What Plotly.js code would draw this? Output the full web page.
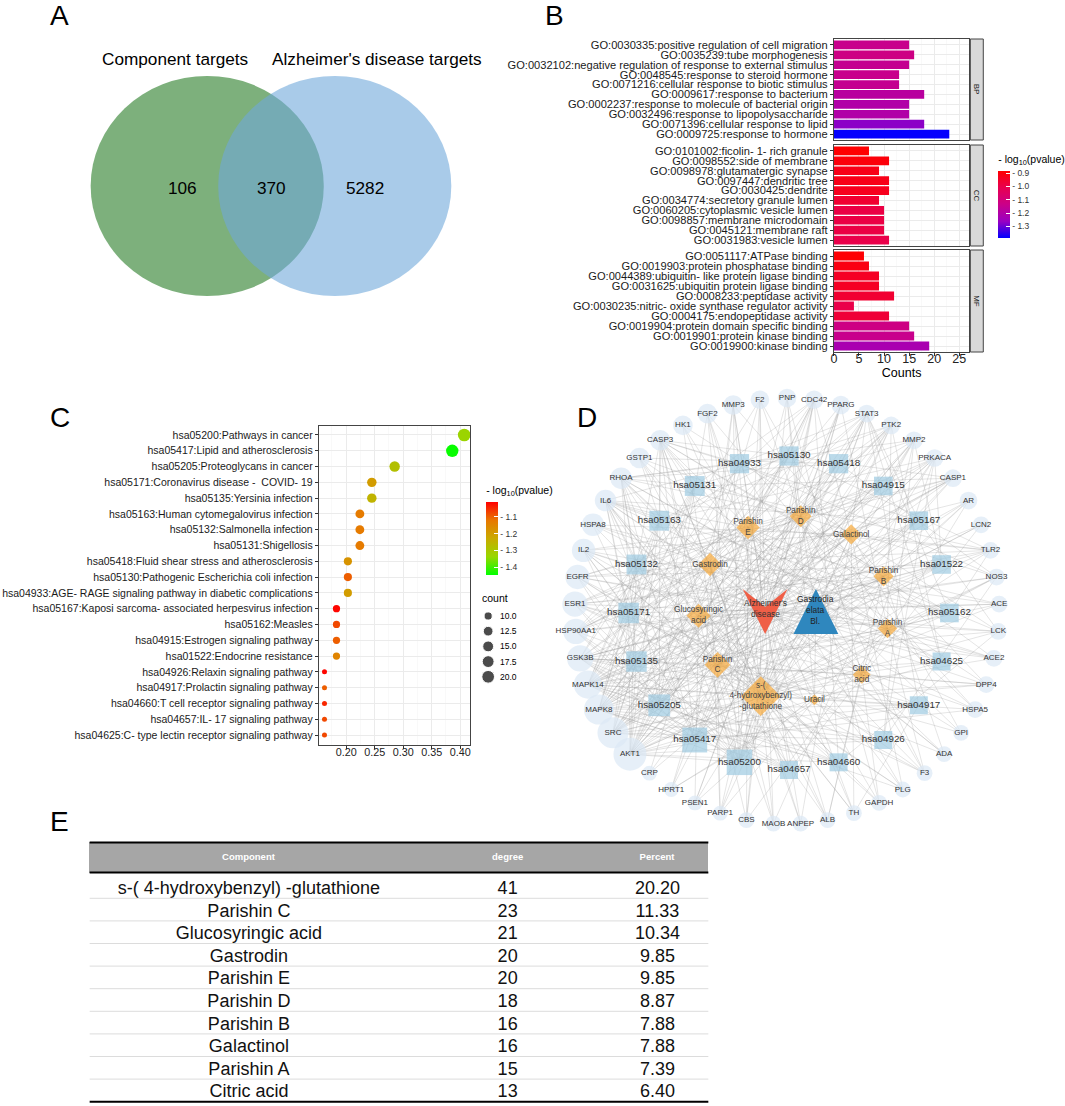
<!DOCTYPE html>
<html><head><meta charset="utf-8">
<script src="https://cdn.plot.ly/plotly-3.0.1.min.js"></script>
<style>html,body{margin:0;padding:0;background:#fff}</style>
</head><body><div id="chart" style="width:1065px;height:1106px"></div>
<script>
// ---------- Panel A data ----------
const vennSets = ['Component targets', "Alzheimer's disease targets"];
const vennRegionCounts = [106, 370, 5282]; // component only, shared, AD only

// ---------- Panel B data ----------
const goBPTerms = ['GO:0030335:positive regulation of cell migration','GO:0035239:tube morphogenesis','GO:0032102:negative regulation of response to external stimulus','GO:0048545:response to steroid hormone','GO:0071216:cellular response to biotic stimulus','GO:0009617:response to bacterium','GO:0002237:response to molecule of bacterial origin','GO:0032496:response to lipopolysaccharide','GO:0071396:cellular response to lipid','GO:0009725:response to hormone'];
const goBPCounts = [15,16,15,13,13,18,15,15,18,23];
const goBPLogP = [-1.14,-1.12,-1.15,-1.14,-1.15,-1.18,-1.2,-1.2,-1.27,-1.38];
const goCCTerms = ['GO:0101002:ficolin- 1- rich granule','GO:0098552:side of membrane','GO:0098978:glutamatergic synapse','GO:0097447:dendritic tree','GO:0030425:dendrite','GO:0034774:secretory granule lumen','GO:0060205:cytoplasmic vesicle lumen','GO:0098857:membrane microdomain','GO:0045121:membrane raft','GO:0031983:vesicle lumen'];
const goCCCounts = [7,11,9,11,11,9,10,10,10,11];
const goCCLogP = [-0.885,-0.9,-0.92,-0.92,-0.93,-0.96,-0.99,-0.99,-0.99,-1.0];
const goMFTerms = ['GO:0051117:ATPase binding','GO:0019903:protein phosphatase binding','GO:0044389:ubiquitin- like protein ligase binding','GO:0031625:ubiquitin protein ligase binding','GO:0008233:peptidase activity','GO:0030235:nitric- oxide synthase regulator activity','GO:0004175:endopeptidase activity','GO:0019904:protein domain specific binding','GO:0019901:protein kinase binding','GO:0019900:kinase binding'];
const goMFCounts = [6,7,9,9,12,4,11,15,16,19];
const goMFLogP = [-0.89,-0.91,-0.94,-0.94,-0.96,-1.0,-0.97,-1.12,-1.14,-1.22];
const goFacets = ['BP','CC','MF'];
const goLogPTicks = [-0.9,-1.0,-1.1,-1.2,-1.3];

// ---------- Panel C data ----------
const keggTerms = ['hsa05200:Pathways in cancer','hsa05417:Lipid and atherosclerosis','hsa05205:Proteoglycans in cancer','hsa05171:Coronavirus disease -  COVID- 19','hsa05135:Yersinia infection','hsa05163:Human cytomegalovirus infection','hsa05132:Salmonella infection','hsa05131:Shigellosis','hsa05418:Fluid shear stress and atherosclerosis','hsa05130:Pathogenic Escherichia coli infection','hsa04933:AGE- RAGE signaling pathway in diabetic complications','hsa05167:Kaposi sarcoma- associated herpesvirus infection','hsa05162:Measles','hsa04915:Estrogen signaling pathway','hsa01522:Endocrine resistance','hsa04926:Relaxin signaling pathway','hsa04917:Prolactin signaling pathway','hsa04660:T cell receptor signaling pathway','hsa04657:IL- 17 signaling pathway','hsa04625:C- type lectin receptor signaling pathway'];
const keggRatio = [0.407,0.386,0.285,0.245,0.245,0.224,0.224,0.224,0.203,0.203,0.203,0.183,0.183,0.183,0.183,0.162,0.162,0.162,0.162,0.162];
const keggCount = [20,19,14,12,12,11,11,11,10,10,10,9,9,9,9,8,8,8,8,8];
const keggLogP = [-1.33,-1.44,-1.28,-1.2,-1.25,-1.13,-1.13,-1.13,-1.18,-1.1,-1.2,-1.02,-1.08,-1.1,-1.15,-1.02,-1.1,-1.05,-1.08,-1.08];
const keggLogPTicks = [-1.1,-1.2,-1.3,-1.4];
const countLegendValues = [10, 12.5, 15, 17.5, 20];

// ---------- Panel D data ----------
const genes = ['AKT1','SRC','MAPK8','MAPK14','GSK3B','HSP90AA1','ESR1','EGFR','IL2','HSPA8','IL6','RHOA','GSTP1','CASP3','HK1','FGF2','MMP3','F2','PNP','CDC42','PPARG','STAT3','PTK2','MMP2','PRKACA','CASP1','AR','LCN2','TLR2','NOS3','ACE','LCK','ACE2','DPP4','HSPA5','GPI','ADA','F3','PLG','GAPDH','TH','ALB','ANPEP','MAOB','CBS','PARP1','PSEN1','HPRT1','CRP'];
const geneDegree = [22,20,19,17,15,14,14,13,12,11,10,10,9,9,8,8,8,7,7,7,7,6,6,6,6,6,6,5,5,5,5,5,5,5,5,4,4,4,4,4,4,4,4,4,4,3,3,3,3];
const netPathwayOrder = ['hsa05130','hsa05418','hsa04915','hsa05167','hsa01522','hsa05162','hsa04625','hsa04917','hsa04926','hsa04660','hsa04657','hsa05200','hsa05417','hsa05205','hsa05135','hsa05171','hsa05132','hsa05163','hsa05131','hsa04933'];
const pathwayGenes = [
 'AKT1 MAPK8 GSK3B HSP90AA1 ESR1 EGFR IL2 IL6 RHOA GSTP1 CASP3 FGF2 MMP2 PTK2 STAT3 PPARG CDC42 PRKACA F2 MMP3',
 'AKT1 SRC MAPK8 MAPK14 GSK3B HSP90AA1 IL6 RHOA CASP3 CASP1 TLR2 NOS3 MMP3 PPARG HSPA5 HSPA8 STAT3 PTK2 CDC42',
 'AKT1 SRC MAPK14 ESR1 EGFR FGF2 MMP2 PTK2 STAT3 CDC42 PRKACA RHOA CASP3 PLG',
 'AKT1 MAPK8 MAPK14 IL2 IL6 STAT3 TLR2 ACE ACE2 CASP1 F2 F3',
 'AKT1 SRC MAPK8 MAPK14 GSK3B IL2 IL6 RHOA CASP1 PTK2 CDC42 LCK',
 'AKT1 SRC MAPK8 MAPK14 GSK3B IL6 RHOA CASP3 PTK2 STAT3 PRKACA',
 'AKT1 SRC MAPK8 MAPK14 IL6 RHOA CASP1 CASP3 CDC42 TLR2 HSP90AA1',
 'AKT1 SRC MAPK8 MAPK14 GSK3B RHOA CASP1 CASP3 CDC42 PTK2 TLR2',
 'AKT1 SRC MAPK8 MAPK14 HSP90AA1 NOS3 RHOA MMP2 PTK2 GSTP1',
 'AKT1 SRC MAPK8 MAPK14 RHOA CASP3 CDC42 TLR2 CASP1 HSP90AA1',
 'AKT1 MAPK8 MAPK14 IL6 STAT3 NOS3 CASP3 MMP2 RHOA F3',
 'AKT1 SRC MAPK8 MAPK14 GSK3B IL6 STAT3 CASP3 LCK',
 'AKT1 MAPK8 GSK3B IL2 IL6 STAT3 HSPA8 TLR2 CASP3',
 'AKT1 SRC MAPK8 MAPK14 HSP90AA1 ESR1 EGFR PRKACA MMP2',
 'AKT1 SRC MAPK8 MAPK14 ESR1 EGFR PRKACA MMP2 GSK3B',
 'AKT1 SRC MAPK8 MAPK14 EGFR NOS3 PRKACA MMP2',
 'AKT1 SRC MAPK8 MAPK14 GSK3B ESR1 STAT3 TH',
 'AKT1 MAPK8 MAPK14 GSK3B IL2 LCK CDC42 IL6',
 'MAPK8 MAPK14 GSK3B HSP90AA1 IL6 CASP3 MMP3 LCN2',
 'AKT1 MAPK8 MAPK14 IL2 IL6 STAT3 RHOA PTK2'];
const componentNames = ['Parishin D','Galactinol','Parishin B','Parishin A','Citric acid','Uracil','s-(4-hydroxybenzyl)-glutathione','Parishin C','Glucosyringic acid','Gastrodin','Parishin E'];
const componentLabels = ['Parishin<br>D','Galactinol','Parishin<br>B','Parishin<br>A','Citric<br>acid','Uracil','s-(<br>4-hydroxybenzyl)<br>-glutathione','Parishin<br>C','Glucosyringic<br>acid','Gastrodin','Parishin<br>E'];
const componentDegree = [18,16,16,15,13,4,41,23,21,20,20];
const componentGenes = [
 'PNP PPARG PTK2 PRKACA NOS3 ACE2 HSPA5 F3 GAPDH PSEN1 AKT1 SRC MAPK8 HSP90AA1 EGFR RHOA GSTP1 F2',
 'CDC42 STAT3 CASP1 TLR2 LCK GPI PLG TH ANPEP PARP1 SRC MAPK8 HSP90AA1 IL2 HSPA8 HK1',
 'MMP2 AR LCN2 ACE DPP4 ADA ALB MAOB CRP AKT1 MAPK14 GSK3B ESR1 IL6 CASP3 MMP3',
 'PPARG PTK2 NOS3 ACE2 HSPA5 F3 CBS PSEN1 AKT1 MAPK14 EGFR RHOA GSTP1 FGF2 F2',
 'PNP PRKACA AR DPP4 ADA GAPDH ALB HPRT1 SRC GSK3B ESR1 IL6 CASP3',
 'PNP DPP4 HPRT1 PARP1',
 'CDC42 PPARG STAT3 PTK2 MMP2 PRKACA CASP1 AR NOS3 ACE LCK ACE2 DPP4 HSPA5 F3 PLG GAPDH TH ALB ANPEP MAOB CBS PARP1 PSEN1 AKT1 SRC MAPK8 MAPK14 GSK3B HSP90AA1 ESR1 EGFR IL2 HSPA8 IL6 RHOA GSTP1 CASP3 FGF2 MMP3 F2',
 'PNP STAT3 MMP2 AR LCN2 TLR2 ACE DPP4 GPI ADA PLG ALB MAOB PARP1 HPRT1 AKT1 SRC MAPK8 MAPK14 GSK3B ESR1 EGFR HK1',
 'PTK2 PRKACA CASP1 NOS3 LCK HSPA5 F3 GAPDH TH CBS PSEN1 CRP AKT1 SRC MAPK8 MAPK14 HSP90AA1 IL2 IL6 CASP3 F2',
 'PPARG MMP2 AR ACE ACE2 ADA ALB ANPEP MAOB PARP1 AKT1 MAPK8 GSK3B HSP90AA1 ESR1 EGFR HSPA8 RHOA GSTP1 MMP3',
 'CDC42 STAT3 CASP1 TLR2 LCK DPP4 GPI PLG TH CBS HPRT1 SRC MAPK14 GSK3B ESR1 IL2 IL6 CASP3 HK1 FGF2'];
const diseaseNode = "Alzheimer's<br>disease";
const herbNode = 'Gastrodia<br>elata<br>Bl.';

// ---------- Panel E data ----------
const tableHeader = ['Component','degree','Percent'];
const tableComponents = ['s-( 4-hydroxybenzyl) -glutathione','Parishin C','Glucosyringic acid','Gastrodin','Parishin E','Parishin D','Parishin B','Galactinol','Parishin A','Citric acid'];
const tableDegree = [41,23,21,20,20,18,16,16,15,13];
const tablePercent = [20.20,11.33,10.34,9.85,9.85,8.87,7.88,7.88,7.39,6.40];

// ================= drawing =================
const W = 1065, H = 1106;
const F = 'Liberation Sans, Arial, Helvetica, sans-serif';
const px = v => v / W, py = v => 1 - v / H;
const traces = [], shapes = [], annotations = [];
const ann = (x, y, text, size, extra) => annotations.push(Object.assign({xref:'paper', yref:'paper', x:px(x), y:py(y), text, showarrow:false, font:{family:F, size, color:'#000'}, xanchor:'center', yanchor:'middle'}, extra||{}));

// panel letters
[['A',60,16],['B',557,16],['C',60,417],['D',589,417],['E',60,821]].forEach(l => ann(l[1], l[2], l[0], 28));

// ---- Panel A: Venn (pixel overlay axis x/y) ----
const vennCy = 186, vennRx = 117, vennRy = 110, vennCx = [208, 336];
shapes.push({type:'circle', xref:'x', yref:'y', x0:vennCx[0]-vennRx, x1:vennCx[0]+vennRx, y0:vennCy-vennRy, y1:vennCy+vennRy, fillcolor:'#7db07c', line:{width:0}, layer:'below'});
shapes.push({type:'circle', xref:'x', yref:'y', x0:vennCx[1]-vennRx, x1:vennCx[1]+vennRx, y0:vennCy-vennRy, y1:vennCy+vennRy, fillcolor:'rgb(112,168,218)', opacity:0.6, line:{width:0}, layer:'below'});
ann(176, 59, vennSets[0], 17.2);
ann(378, 59, vennSets[1], 17.2);
const vennTextX = [183, 273, 366];
vennRegionCounts.forEach((c,i) => ann(vennTextX[i], 188, String(c), 17.2));

// ---- Panel B: GO bars ----
const bDomX = [px(837), px(973)];
const bPanels = [[39,140],[145,246],[250,352]];
const goTerms = [goBPTerms, goCCTerms, goMFTerms], goCounts = [goBPCounts, goCCCounts, goMFCounts], goLogP = [goBPLogP, goCCLogP, goMFLogP];
const layoutAxes = {};
goTerms.forEach((terms, k) => {
  const n = k + 2;
  traces.push({type:'bar', orientation:'h', x:goCounts[k], y:terms, xaxis:'x'+n, yaxis:'y'+n, width:0.88,
    marker:{color:goLogP[k], coloraxis:'coloraxis', line:{width:0}}, hoverinfo:'skip'});
  layoutAxes['xaxis'+n] = {domain:bDomX, anchor:'y'+n, range:[0,27], tickmode:'linear', tick0:0, dtick:5, showticklabels:k===2, ticks:k===2?'outside':'', ticklen:3, tickcolor:'#333',
    ticklabelstandoff:-8, tickfont:{family:F, size:12.5, color:'#222'}, showgrid:true, gridcolor:'#ebebeb', zeroline:false,
    minor:{dtick:2.5, showgrid:true, gridcolor:'#f5f5f5', gridwidth:0.6},
    showline:true, mirror:true, linecolor:'#444', linewidth:1,
    title: k===2 ? {text:'Counts', font:{family:F, size:12.5, color:'#000'}, standoff:0} : undefined};
  layoutAxes['yaxis'+n] = {domain:[py(bPanels[k][1]), py(bPanels[k][0])], anchor:'x'+n, type:'category', categoryorder:'array', categoryarray:terms,
    tickmode:'linear', tick0:0, dtick:1,
    range:[terms.length-0.4, -0.6], ticks:'outside', ticklen:3, tickcolor:'#333', tickfont:{family:F, size:11.1, color:'#1a1a1a'},
    showgrid:true, gridcolor:'#ebebeb', zeroline:false, showline:true, mirror:true, linecolor:'#444', linewidth:1};
  // facet strip
  shapes.push({type:'rect', xref:'paper', yref:'paper', x0:px(974), x1:px(987), y0:py(bPanels[k][1]), y1:py(bPanels[k][0]), fillcolor:'#d9d9d9', line:{color:'#444', width:1}});
  ann(980.5, (bPanels[k][0]+bPanels[k][1])/2, goFacets[k], 8, {textangle:90, font:{family:F, size:8, color:'#1a1a1a'}});
});

// ---- Panel C: KEGG dot plot ----
const cMin = Math.min(...keggCount), cMax = Math.max(...keggCount);
const dotSize = c => 5 + 7.7 * Math.sqrt(Math.max(0, (c - cMin)) / (cMax - cMin));
traces.push({type:'scatter', mode:'markers', x:keggRatio, y:keggTerms, xaxis:'x5', yaxis:'y5',
  marker:{size:keggCount.map(dotSize), color:keggLogP, coloraxis:'coloraxis2', line:{width:0}, opacity:1}, hoverinfo:'skip'});
layoutAxes.xaxis5 = {domain:[px(320), px(472)], anchor:'y5', range:[0.152, 0.4175], tickmode:'linear', tick0:0.2, dtick:0.05, tickformat:'.2f', ticks:'outside', ticklen:3, tickcolor:'#333',
  ticklabelstandoff:-5, tickfont:{family:F, size:10.8, color:'#222'}, showgrid:true, gridcolor:'#ebebeb', zeroline:false,
  minor:{dtick:0.025, showgrid:true, gridcolor:'#f5f5f5', gridwidth:0.6}, showline:true, mirror:true, linecolor:'#444', linewidth:1};
layoutAxes.yaxis5 = {domain:[py(744.5), py(425.5)], anchor:'x5', type:'category', categoryorder:'array', categoryarray:keggTerms,
  tickmode:'linear', tick0:0, dtick:1,
  range:[keggTerms.length-0.4, -0.6], ticks:'outside', ticklen:3, tickcolor:'#333', tickfont:{family:F, size:10.5, color:'#1a1a1a'},
  showgrid:true, gridcolor:'#ebebeb', zeroline:false, showline:true, mirror:true, linecolor:'#444', linewidth:1};
// count size legend (pixel axis)
ann(482, 598, 'count', 10.5, {xanchor:'left'});
traces.push({type:'scatter', mode:'markers', x:countLegendValues.map(()=>490), y:countLegendValues.map((v,i)=>616+15.2*i),
  marker:{size:countLegendValues.map(dotSize), color:'#000'}, hoverinfo:'skip', xaxis:'x', yaxis:'y'});
countLegendValues.forEach((v,i) => ann(500, 616+15.2*i, v.toFixed(1), 8.5, {xanchor:'left'}));

// ---- Panel D: network (pixel axis) ----
const ring = (i, n, c, rx, ry, off) => { const t = (off + i * 360 / n) * Math.PI / 180; return [c[0] + rx * Math.sin(t), c[1] - ry * Math.cos(t)]; };
const pos = {};
genes.forEach((g,i) => pos[g] = ring(i, genes.length, [790, 611], 213, 213, -genes.indexOf('PNP') * 360 / genes.length));
netPathwayOrder.forEach((p,i) => pos[p] = ring(i, netPathwayOrder.length, [792, 613], 161, 157, 0));
componentNames.forEach((c,i) => pos[c] = ring(i, componentNames.length, [797, 609], 96, 93, 4));
const adPos = [768, 611.5], herbPos = [819, 611.5];
const ex = [], ey = [];
const edge = (a, b) => { ex.push(a[0], b[0], null); ey.push(a[1], b[1], null); };
const keggIds = keggTerms.map(t => t.split(':')[0]);
pathwayGenes.forEach((s,i) => s.split(' ').forEach(g => edge(pos[keggIds[i]], pos[g])));
componentGenes.forEach((s,i) => s.split(' ').forEach(g => edge(pos[componentNames[i]], pos[g])));
genes.forEach(g => edge(adPos, pos[g]));
componentNames.forEach(c => edge(herbPos, pos[c]));
traces.push({type:'scatter', mode:'lines', x:ex, y:ey, line:{color:'rgba(150,150,150,0.42)', width:0.6}, hoverinfo:'skip', xaxis:'x', yaxis:'y'});
traces.push({type:'scatter', mode:'markers+text', x:genes.map(g=>pos[g][0]), y:genes.map(g=>pos[g][1]), text:genes, textposition:'middle center',
  textfont:{family:F, size:8, color:'#333'}, marker:{symbol:'circle', size:geneDegree.map(d=>12+0.95*d), color:'#dce8f5', line:{width:0}}, hoverinfo:'skip', xaxis:'x', yaxis:'y'});
traces.push({type:'scatter', mode:'markers+text', x:netPathwayOrder.map(p=>pos[p][0]), y:netPathwayOrder.map(p=>pos[p][1]), text:netPathwayOrder, textposition:'middle center',
  textfont:{family:F, size:9.8, color:'#333'}, marker:{symbol:'square', size:netPathwayOrder.map(p=>18+(keggCount[keggIds.indexOf(p)]-8)*0.625), color:'#9ecae1', line:{width:0}}, hoverinfo:'skip', xaxis:'x', yaxis:'y'});
traces.push({type:'scatter', mode:'markers+text', x:componentNames.map(c=>pos[c][0]), y:componentNames.map(c=>pos[c][1]), text:componentLabels, textposition:'middle center',
  textfont:{family:F, size:8.2, color:'#444'}, marker:{symbol:'diamond', size:componentDegree.map(d=>6+0.6*d), color:'#f6aa3c', line:{width:0}}, hoverinfo:'skip', xaxis:'x', yaxis:'y'});
// central nodes
const hw = 22.5, hh = 22.5;
const poly = pts => 'M' + pts.map(p => p[0].toFixed(1)+','+p[1].toFixed(1)).join(' L') + ' Z';
shapes.push({type:'path', xref:'x', yref:'y', layer:'above', fillcolor:'#ef5f47', line:{width:0},
  path: poly([[adPos[0]-hw, adPos[1]-hh],[adPos[0], adPos[1]-hh*0.2],[adPos[0]+hw, adPos[1]-hh],[adPos[0], adPos[1]+hh]])});
shapes.push({type:'path', xref:'x', yref:'y', layer:'above', fillcolor:'#2f87be', line:{width:0},
  path: poly([[herbPos[0]-hw, herbPos[1]+hh],[herbPos[0], herbPos[1]-hh],[herbPos[0]+hw, herbPos[1]+hh]])});
annotations.push({xref:'x', yref:'y', x:adPos[0], y:adPos[1]-3, text:diseaseNode, showarrow:false, font:{family:F, size:8.4, color:'#333'}});
annotations.push({xref:'x', yref:'y', x:herbPos[0], y:herbPos[1]-2, text:herbNode, showarrow:false, font:{family:F, size:8.4, color:'#222'}});

// ---- Panel E: table ----
const tTop = 842.5, tHead = 30, tRow = 22.6, tTextShift = 3.2; // text sits slightly below plotly's cell centre
traces.push({type:'table', domain:{x:[px(90), px(711)], y:[0, py(tTop)]}, columnwidth:[320,200,101],
  header:{values:tableHeader.map(h=>'<b>'+h+'</b>'), align:'center', height:tHead, fill:{color:'#a6a6a6'}, font:{family:F, size:9.5, color:'#fff'}, line:{width:1, color:'#a6a6a6'}},
  cells:{values:[tableComponents, tableDegree, tablePercent], format:['','','.2f'], align:'center', height:tRow, fill:{color:'rgba(0,0,0,0)'}, font:{family:F, size:18, color:'#111'}, line:{width:0, color:'rgba(0,0,0,0)'}}});
const hline = (y, color, w) => shapes.push({type:'line', xref:'paper', yref:'paper', x0:px(90), x1:px(711), y0:py(y), y1:py(y), line:{color, width:w}});
for (let k = 1; k < tableComponents.length; k++) hline(tTop + tHead + tRow * k + tTextShift, '#dcdcdc', 1);
hline(tTop, '#000', 2); hline(tTop + tHead, '#000', 2); hline(tTop + tHead + tRow * tableComponents.length + tTextShift, '#000', 2);

// ---------- layout ----------
const cbCommon = {thickness:12, thicknessmode:'pixels', lenmode:'pixels', xanchor:'left', yanchor:'top', xpad:0, ypad:0, outlinewidth:0,
  ticks:'inside', ticklen:4, tickcolor:'#fff', tickfont:{family:F, size:8.5, color:'#333'}};
const layout = Object.assign({
  width:W, height:H, margin:{l:0, r:0, t:0, b:0}, paper_bgcolor:'#fff', plot_bgcolor:'rgba(0,0,0,0)', showlegend:false,
  font:{family:F},
  xaxis:{domain:[0,1], range:[0,W], visible:false, fixedrange:true},
  yaxis:{domain:[0,1], range:[H,0], visible:false, fixedrange:true},
  coloraxis:{cmin:-1.384, cmax:-0.884, colorscale:[[0,'#0000ff'],[0.25,'#9a00c2'],[0.5,'#ca0089'],[0.75,'#e80050'],[1,'#ff0000']],
    colorbar:Object.assign({}, cbCommon, {x:px(1002), y:py(151.7), len:86, tickvals:goLogPTicks, ticktext:goLogPTicks.map(v=>'- '+Math.abs(v).toFixed(1)),
      title:{text:'- log<sub>10</sub>(pvalue)', side:'top', font:{family:F, size:10.5, color:'#000'}}})},
  coloraxis2:{cmin:-1.445, cmax:-1.015, colorscale:[[0,'#00ff00'],[0.25,'#98d700'],[0.5,'#c9ab00'],[0.75,'#e87700'],[1,'#ff0000']],
    colorbar:Object.assign({}, cbCommon, {x:px(488), y:py(483), len:92, tickvals:keggLogPTicks, ticktext:keggLogPTicks.map(v=>'- '+Math.abs(v).toFixed(1)),
      title:{text:'- log<sub>10</sub>(pvalue)', side:'top', font:{family:F, size:10.5, color:'#000'}}})},
  shapes, annotations
}, layoutAxes);

Plotly.newPlot('chart', traces, layout, {staticPlot:true, displayModeBar:false});
</script></body></html>
